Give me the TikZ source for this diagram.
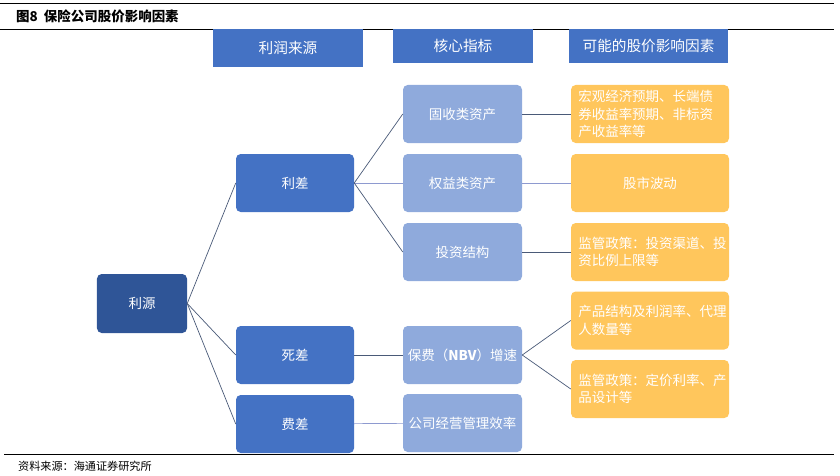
\documentclass[tikz,border=0pt]{standalone}
\usepackage{fontspec}
\setmainfont{Noto Sans CJK SC}
\usepackage{tikz}
\usetikzlibrary{positioning}
\definecolor{HtHeadBlue}{HTML}{4472C4}
\definecolor{HtDeepBlue}{HTML}{2F5597}
\definecolor{HtPaleBlue}{HTML}{8FAADC}
\definecolor{HtOrange}{HTML}{FFC65C}
\definecolor{HtLine}{HTML}{4A5A78}
\definecolor{HtLineLight}{HTML}{8E9AD0}

\begin{document}
\begin{tikzpicture}[
  x=0.03cm,
  y=-0.03cm,
  font=\fontsize{11.5}{14}\selectfont,
  box/.style={
    rounded corners=4pt,
    align=center,
    text=white,
    inner sep=2pt
  },
  headbox/.style={fill=HtHeadBlue, text=white, minimum height=0.99cm, font=\fontsize{12.5}{15}\selectfont},
  rootbox/.style={box, fill=HtDeepBlue, minimum width=2.7cm, minimum height=1.77cm},
  srcbox/.style={box, fill=HtHeadBlue, minimum width=3.54cm, minimum height=1.74cm},
  keybox/.style={box, fill=HtPaleBlue, minimum width=3.57cm, minimum height=1.74cm},
  factbox/.style={box, fill=HtOrange, minimum width=4.74cm, minimum height=1.74cm, text width=4.3cm, align=left, font=\fontsize{11.5}{15}\selectfont},
  link/.style={line width=0.6pt, draw=HtLine},
  lightlink/.style={link, draw=HtLineLight},
  rule/.style={line width=0.8pt, draw=black}
]
\useasboundingbox (0,0) rectangle (840,475);

% frame rules and captions
\coordinate (topL) at (0,3);
\coordinate (topR) at (834,3);
\coordinate (midL) at (0,29);
\coordinate (midR) at (834,29);
\coordinate (botL) at (4,454);
\coordinate (botR) at (834,454);
\draw[rule] (topL) -- (topR);
\draw[rule] (midL) -- (midR);
\draw[rule] (botL) -- (botR);
\node[anchor=west, font=\fontsize{11.5}{14}\selectfont\bfseries] (title) at (12,16) {图8\ \ 保险公司股价影响因素};
\node[anchor=west, font=\fontsize{9.5}{12}\selectfont] (source) at (14,466) {资料来源：海通证券研究所};

% column heads
\node[headbox, minimum width=4.5cm, minimum height=1.11cm] (hsrc) at (288,48) {利润来源};
\node[headbox, minimum width=4.2cm] (hkey) at (463,46) {核心指标};
\node[headbox, minimum width=4.77cm] (hfact) at (648.5,46) {可能的股价影响因素};

% tree
\node[rootbox] (liyuan) at (142,303.5) {利源};
\node[srcbox] (licha) at (295,183) {利差};
\node[srcbox] (sicha) at (295,355) {死差};
\node[srcbox] (feicha) at (295,424) {费差};

\node[keybox] (gushou) at (462.5,114) {固收类资产};
\node[keybox] (quanyi) at (462.5,183) {权益类资产};
\node[keybox] (touzi) at (462.5,252) {投资结构};
\node[keybox] (baofei) at (462.5,355) {保费（\textbf{NBV}）增速};
\node[keybox] (xiaolv) at (462.5,423) {公司经营管理效率};

\node[factbox] (hongguan) at (650,114) {宏观经济预期、长端债\\券收益率预期、非标资\\产收益率等};
\node[factbox, align=center] (gushi) at (650,183) {股市波动};
\node[factbox] (jianguan) at (650,252) {监管政策：投资渠道、投\\资比例上限等};
\node[factbox] (chanpin) at (650,320.5) {产品结构及利润率、代理\\人数量等};
\node[factbox] (dingjia) at (650,389) {监管政策：定价利率、产\\品设计等};

\draw[link] (liyuan.east) -- (licha.west);
\draw[link] (liyuan.east) -- (sicha.west);
\draw[link] (liyuan.east) -- (feicha.west);
\draw[link] (licha.east) -- (gushou.west);
\draw[lightlink] (licha.east) -- (quanyi.west);
\draw[link] (licha.east) -- (touzi.west);
\draw[link] (sicha) -- (baofei);
\draw[lightlink] (feicha) -- (xiaolv);
\draw[link] (gushou) -- (hongguan);
\draw[lightlink] (quanyi) -- (gushi);
\draw[link] (touzi) -- (jianguan);
\draw[link] (baofei.east) -- (chanpin.west);
\draw[link] (baofei.east) -- (dingjia.west);
\end{tikzpicture}
\end{document}
